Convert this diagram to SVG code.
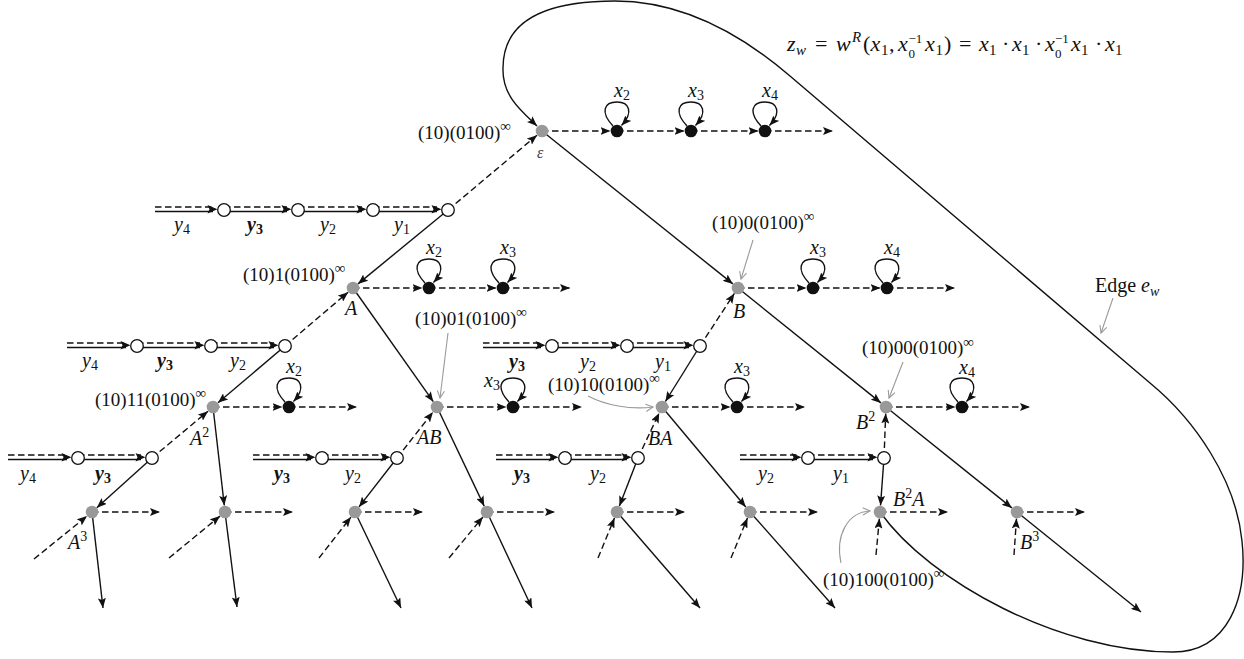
<svg xmlns="http://www.w3.org/2000/svg" xmlns:xlink="http://www.w3.org/1999/xlink" width="1244" height="659" viewBox="0 0 1244 659">
<style>
.t{font-family:"Liberation Serif","Times New Roman",serif;font-size:19px;fill:#111}
.m{font-size:20px}
.i{font-style:italic}
.s{font-size:14px;font-style:normal}
.si{font-size:14px;font-style:italic}
.inf{font-size:15px;font-style:normal}
.b{font-weight:bold}
.f{font-size:22px}
.fs{font-size:15px;font-style:normal}
.fss{font-size:13px;font-style:normal}
.fsi{font-size:15px;font-style:italic}
.sol{stroke:#111;stroke-width:1.4;fill:none}
.das{stroke:#111;stroke-width:1.4;fill:none;stroke-dasharray:6.5 3.5}
.arr{marker-end:url(#ar)}
.gr{stroke:#9a9a9a;stroke-width:1.1;fill:none;marker-end:url(#gar)}
.ng{fill:#999}
.nb{fill:#111}
.nw{fill:#fff;stroke:#111;stroke-width:1.3}
</style>
<defs>
<marker id="ar" viewBox="0 0 10 8" refX="10" refY="4" markerWidth="10" markerHeight="8" markerUnits="userSpaceOnUse" orient="auto"><path d="M0,0 L10,4 L0,8 L2,4 z" fill="#111"/></marker>
<marker id="gar" viewBox="0 0 10 10" refX="9" refY="5" markerWidth="9" markerHeight="9" markerUnits="userSpaceOnUse" orient="auto"><path d="M1,1 L9,5 L1,9" fill="none" stroke="#9a9a9a" stroke-width="1.2"/></marker>
<path id="ah" d="M0,0 L-10,-4.2 L-8,0 L-10,4.2 z" fill="#111"/>
<path id="loop" class="sol arr" d="M-4,-5 C-17,-19 -13,-29 0,-29 C12,-29 17,-19 4.5,-5.5"/>
</defs>
<rect width="1244" height="659" fill="#fff"/>

<g id="connectors">
<path class="sol arr" d="M880,512 C930,582 1060,652 1173,652 C1228,652 1248,598 1242,541 C1236,480 1195,420 1150,383 L790,76 C740,33 680,1 615,1 C545,1 503,20 503,68 C502,95 520,110 537,126"/>
<path class="sol arr" d="M542,131 L732.9,283.9"/>
<path class="sol arr" d="M448,210 L358,283.9"/>
<path class="sol arr" d="M353,288 L433.3,401.7"/>
<path class="sol arr" d="M285,346 L218,402.8"/>
<path class="sol arr" d="M152,458 L96.8,507.7"/>
<path class="sol arr" d="M213,407 L224.3,505.5"/>
<path class="sol arr" d="M397,458 L359,506.9"/>
<path class="sol arr" d="M437,407 L484.2,506.1"/>
<path class="sol arr" d="M738,288 L880.9,402.9"/>
<path class="sol arr" d="M700,346 L665.4,401.5"/>
<path class="sol arr" d="M638,458 L619.4,505.9"/>
<path class="sol arr" d="M662,407 L745.8,507"/>
<path class="sol arr" d="M884,458 L880.5,505.5"/>
<path class="sol arr" d="M886,407 L1011.9,507.9"/>
<path class="sol arr" d="M92,512 L103,608"/>
<path class="sol arr" d="M225,512 L237,607"/>
<path class="sol arr" d="M355,512 L401,608"/>
<path class="sol arr" d="M487,512 L532,608"/>
<path class="sol arr" d="M617,512 L700,608"/>
<path class="sol arr" d="M750,512 L835,608"/>
<path class="sol arr" d="M1017,512 L1141,612"/>
<path class="das arr" d="M448,210 L537,135.2"/>
<path class="das arr" d="M285,346 L348.1,292.2"/>
<path class="das arr" d="M152,458 L208,411.2"/>
<path class="das arr" d="M397,458 L433,412.1"/>
<path class="das arr" d="M700,346 L734.4,293.4"/>
<path class="das arr" d="M638,458 L659.2,412.9"/>
<path class="das arr" d="M884,458 L885.7,413.5"/>
<path class="das arr" d="M34,559 L87,516.1"/>
<path class="das arr" d="M169,558 L220,516.1"/>
<path class="das arr" d="M319,558 L351,517.1"/>
<path class="das arr" d="M449,558 L482.9,517"/>
<path class="das arr" d="M598,558 L614.5,518"/>
<path class="das arr" d="M731,558 L747.5,518"/>
<path class="das arr" d="M876,555 L879.4,518.5"/>
<path class="das arr" d="M1014,555 L1016.5,518.5"/>
<path class="das arr" d="M542,131 H610.5"/>
<path class="das arr" d="M617,131 H684.5"/>
<path class="das arr" d="M691,131 H758.5"/>
<path class="das arr" d="M765,131 H833"/>
<path class="das arr" d="M353,288 H422.5"/>
<path class="das arr" d="M429,288 H496.5"/>
<path class="das arr" d="M503,288 H570"/>
<path class="das arr" d="M738,288 H806.5"/>
<path class="das arr" d="M813,288 H880.5"/>
<path class="das arr" d="M887,288 H955"/>
<path class="das arr" d="M213,407 H282.5"/>
<path class="das arr" d="M289,407 H357"/>
<path class="das arr" d="M437,407 H506.5"/>
<path class="das arr" d="M513,407 H582"/>
<path class="das arr" d="M662,407 H730.5"/>
<path class="das arr" d="M737,407 H805"/>
<path class="das arr" d="M886,407 H955.5"/>
<path class="das arr" d="M962,407 H1030"/>
<path class="das arr" d="M92,512 H160"/>
<path class="das arr" d="M225,512 H293"/>
<path class="das arr" d="M355,512 H423"/>
<path class="das arr" d="M487,512 H555"/>
<path class="das arr" d="M617,512 H685"/>
<path class="das arr" d="M750,512 H818"/>
<path class="das arr" d="M880,512 H948"/>
<path class="das arr" d="M1017,512 H1085"/>
<use href="#loop" x="617" y="131"/>
<use href="#loop" x="691" y="131"/>
<use href="#loop" x="765" y="131"/>
<use href="#loop" x="429" y="288"/>
<use href="#loop" x="503" y="288"/>
<use href="#loop" x="813" y="288"/>
<use href="#loop" x="887" y="288"/>
<use href="#loop" x="289" y="407"/>
<use href="#loop" x="513" y="407"/>
<use href="#loop" x="737" y="407"/>
<use href="#loop" x="962" y="407"/>
<path class="das" d="M155,207 H213 M224,207 H287 M298,207 H362 M373,207 H437"/>
<path class="sol" d="M155,211.5 H213 M224,211.5 H287 M298,211.5 H362 M373,211.5 H437"/>
<use href="#ah" x="217.5" y="209.2"/><use href="#ah" x="291.5" y="209.2"/><use href="#ah" x="366.5" y="209.2"/><use href="#ah" x="441.5" y="209.2"/>
<path class="das" d="M67,343 H126 M137,343 H200 M211,343 H274"/>
<path class="sol" d="M67,347.5 H126 M137,347.5 H200 M211,347.5 H274"/>
<use href="#ah" x="130.5" y="345.2"/><use href="#ah" x="204.5" y="345.2"/><use href="#ah" x="278.5" y="345.2"/>
<path class="das" d="M483,343 H541 M552,343 H616 M627,343 H689"/>
<path class="sol" d="M483,347.5 H541 M552,347.5 H616 M627,347.5 H689"/>
<use href="#ah" x="545.5" y="345.2"/><use href="#ah" x="620.5" y="345.2"/><use href="#ah" x="693.5" y="345.2"/>
<path class="das" d="M8,455 H67 M78,455 H141"/>
<path class="sol" d="M8,459.5 H67 M78,459.5 H141"/>
<use href="#ah" x="71.5" y="457.2"/><use href="#ah" x="145.5" y="457.2"/>
<path class="das" d="M253,455 H311 M322,455 H386"/>
<path class="sol" d="M253,459.5 H311 M322,459.5 H386"/>
<use href="#ah" x="315.5" y="457.2"/><use href="#ah" x="390.5" y="457.2"/>
<path class="das" d="M496,455 H554 M565,455 H627"/>
<path class="sol" d="M496,459.5 H554 M565,459.5 H627"/>
<use href="#ah" x="558.5" y="457.2"/><use href="#ah" x="631.5" y="457.2"/>
<path class="das" d="M740,455 H797 M808,455 H873"/>
<path class="sol" d="M740,459.5 H797 M808,459.5 H873"/>
<use href="#ah" x="801.5" y="457.2"/><use href="#ah" x="877.5" y="457.2"/>
<path class="gr" d="M753,240 L741,279"/>
<path class="gr" d="M448,333 L440,398"/>
<path class="gr" d="M903,362 L889,398"/>
<path class="gr" d="M588,396 C605,405 630,410 653,407"/>
<path class="gr" d="M841,563 C835,535 848,512 870,511"/>
<path class="gr" d="M1113,298 L1101,333"/>
</g>

<g id="n-eps"><circle class="ng" cx="542" cy="131" r="6.3"/>
<text class="t" x="418" y="139">(10)(0100)<tspan class="inf" dy="-8">∞</tspan></text>
<text class="t i" x="537" y="158" style="font-size:16px;fill:#444">ε</text></g>
<g id="n-A"><circle class="ng" cx="353" cy="288" r="6.3"/>
<text class="t" x="243" y="281">(10)1(0100)<tspan class="inf" dy="-8">∞</tspan></text>
<text class="t m i" x="345" y="315">A</text></g>
<g id="n-B"><circle class="ng" cx="738" cy="288" r="6.3"/>
<text class="t" x="712" y="229">(10)0(0100)<tspan class="inf" dy="-8">∞</tspan></text>
<text class="t m i" x="733" y="318">B</text></g>
<g id="n-A2"><circle class="ng" cx="213" cy="407" r="6.3"/>
<text class="t" x="95" y="406">(10)11(0100)<tspan class="inf" dy="-8">∞</tspan></text>
<text class="t m i" x="190" y="445">A<tspan class="s" dy="-8">2</tspan></text></g>
<g id="n-AB"><circle class="ng" cx="437" cy="407" r="6.3"/>
<text class="t" x="415" y="325">(10)01(0100)<tspan class="inf" dy="-8">∞</tspan></text>
<text class="t m i" x="417" y="444">AB</text></g>
<g id="n-BA"><circle class="ng" cx="662" cy="407" r="6.3"/>
<text class="t" x="548" y="391">(10)10(0100)<tspan class="inf" dy="-8">∞</tspan></text>
<text class="t m i" x="648" y="445">BA</text></g>
<g id="n-B2"><circle class="ng" cx="886" cy="407" r="6.3"/>
<text class="t" x="862" y="354">(10)00(0100)<tspan class="inf" dy="-7">∞</tspan></text>
<text class="t m i" x="856" y="429">B<tspan class="s" dy="-8">2</tspan></text></g>
<g id="n-A3"><circle class="ng" cx="92" cy="512" r="6.3"/><text class="t m i" x="68" y="549">A<tspan class="s" dy="-8">3</tspan></text></g>
<g id="n-A2B"><circle class="ng" cx="225" cy="512" r="6.3"/></g>
<g id="n-ABA"><circle class="ng" cx="355" cy="512" r="6.3"/></g>
<g id="n-AB2"><circle class="ng" cx="487" cy="512" r="6.3"/></g>
<g id="n-BA2"><circle class="ng" cx="617" cy="512" r="6.3"/></g>
<g id="n-BAB"><circle class="ng" cx="750" cy="512" r="6.3"/></g>
<g id="n-B2A"><circle class="ng" cx="880" cy="512" r="6.3"/>
<text class="t m i" x="893" y="506">B<tspan class="s" dy="-8">2</tspan><tspan dy="8">A</tspan></text>
<text class="t" x="823" y="586">(10)100(0100)<tspan class="inf" dy="-8">∞</tspan></text></g>
<g id="n-B3"><circle class="ng" cx="1017" cy="512" r="6.3"/><text class="t m i" x="1020" y="549">B<tspan class="s" dy="-8">3</tspan></text></g>

<g id="n-black">
<circle class="nb" cx="617" cy="131" r="6.3"/><text class="t m i" x="614" y="97">x<tspan class="s" dy="3">2</tspan></text>
<circle class="nb" cx="691" cy="131" r="6.3"/><text class="t m i" x="688" y="97">x<tspan class="s" dy="3">3</tspan></text>
<circle class="nb" cx="765" cy="131" r="6.3"/><text class="t m i" x="762" y="97">x<tspan class="s" dy="3">4</tspan></text>
<circle class="nb" cx="429" cy="288" r="6.3"/><text class="t m i" x="426" y="254">x<tspan class="s" dy="3">2</tspan></text>
<circle class="nb" cx="503" cy="288" r="6.3"/><text class="t m i" x="500" y="254">x<tspan class="s" dy="3">3</tspan></text>
<circle class="nb" cx="813" cy="288" r="6.3"/><text class="t m i" x="810" y="254">x<tspan class="s" dy="3">3</tspan></text>
<circle class="nb" cx="887" cy="288" r="6.3"/><text class="t m i" x="884" y="254">x<tspan class="s" dy="3">4</tspan></text>
<circle class="nb" cx="289" cy="407" r="6.3"/><text class="t m i" x="286" y="373">x<tspan class="s" dy="3">2</tspan></text>
<circle class="nb" cx="513" cy="407" r="6.3"/><text class="t m i" x="484" y="387">x<tspan class="s" dy="3">3</tspan></text>
<circle class="nb" cx="737" cy="407" r="6.3"/><text class="t m i" x="734" y="373">x<tspan class="s" dy="3">3</tspan></text>
<circle class="nb" cx="962" cy="407" r="6.3"/><text class="t m i" x="959" y="374">x<tspan class="s" dy="3">4</tspan></text>
</g>

<g id="n-white">
<circle class="nw" cx="224" cy="210" r="6.3"/><circle class="nw" cx="298" cy="210" r="6.3"/><circle class="nw" cx="373" cy="210" r="6.3"/><circle class="nw" cx="448" cy="210" r="6.3"/>
<circle class="nw" cx="137" cy="346" r="6.3"/><circle class="nw" cx="211" cy="346" r="6.3"/><circle class="nw" cx="285" cy="346" r="6.3"/>
<circle class="nw" cx="552" cy="346" r="6.3"/><circle class="nw" cx="627" cy="346" r="6.3"/><circle class="nw" cx="700" cy="346" r="6.3"/>
<circle class="nw" cx="78" cy="458" r="6.3"/><circle class="nw" cx="152" cy="458" r="6.3"/>
<circle class="nw" cx="322" cy="458" r="6.3"/><circle class="nw" cx="397" cy="458" r="6.3"/>
<circle class="nw" cx="565" cy="458" r="6.3"/><circle class="nw" cx="638" cy="458" r="6.3"/>
<circle class="nw" cx="808" cy="458" r="6.3"/><circle class="nw" cx="884" cy="458" r="6.3"/>
</g>

<g id="y-labels">
<text class="t m i" x="174" y="231">y<tspan class="s" dy="3">4</tspan></text>
<text class="t m i b" x="247" y="231">y<tspan class="s b" dy="3">3</tspan></text>
<text class="t m i" x="320" y="231">y<tspan class="s" dy="3">2</tspan></text>
<text class="t m i" x="394" y="231">y<tspan class="s" dy="3">1</tspan></text>
<text class="t m i" x="82" y="367">y<tspan class="s" dy="3">4</tspan></text>
<text class="t m i b" x="157" y="367">y<tspan class="s b" dy="3">3</tspan></text>
<text class="t m i" x="230" y="367">y<tspan class="s" dy="3">2</tspan></text>
<text class="t m i b" x="509" y="368">y<tspan class="s b" dy="3">3</tspan></text>
<text class="t m i" x="580" y="368">y<tspan class="s" dy="3">2</tspan></text>
<text class="t m i" x="655" y="368">y<tspan class="s" dy="3">1</tspan></text>
<text class="t m i" x="20" y="480">y<tspan class="s" dy="3">4</tspan></text>
<text class="t m i b" x="95" y="480">y<tspan class="s b" dy="3">3</tspan></text>
<text class="t m i b" x="274" y="480">y<tspan class="s b" dy="3">3</tspan></text>
<text class="t m i" x="345" y="480">y<tspan class="s" dy="3">2</tspan></text>
<text class="t m i b" x="514" y="480">y<tspan class="s b" dy="3">3</tspan></text>
<text class="t m i" x="590" y="480">y<tspan class="s" dy="3">2</tspan></text>
<text class="t m i" x="758" y="480">y<tspan class="s" dy="3">2</tspan></text>
<text class="t m i" x="833" y="480">y<tspan class="s" dy="3">1</tspan></text>
</g>

<g id="labels">
<text class="t m" x="1095" y="292">Edge <tspan class="i">e</tspan><tspan class="si" dy="4">w</tspan></text>
<text class="t f" y="51"><tspan class="i" x="787">z</tspan><tspan class="fsi" x="796" dy="4">w</tspan><tspan x="815" dy="-4">=</tspan><tspan class="i" x="836">w</tspan><tspan class="fsi" x="852" dy="-9">R</tspan><tspan x="863" dy="9">(</tspan><tspan class="i" x="870.5">x</tspan><tspan class="fs" x="881" dy="4">1</tspan><tspan x="889" dy="-4">,</tspan><tspan class="i" x="898">x</tspan><tspan class="fss" x="908.5" dy="7">0</tspan><tspan class="fss" x="908.5" dy="-15">−1</tspan><tspan class="i" x="925" dy="8">x</tspan><tspan class="fs" x="935.5" dy="4">1</tspan><tspan x="944" dy="-4">)</tspan><tspan x="959">=</tspan><tspan class="i" x="979">x</tspan><tspan class="fs" x="989" dy="4">1</tspan><tspan x="1002" dy="-4">·</tspan><tspan class="i" x="1012">x</tspan><tspan class="fs" x="1022" dy="4">1</tspan><tspan x="1035" dy="-4">·</tspan><tspan class="i" x="1045">x</tspan><tspan class="fss" x="1055" dy="7">0</tspan><tspan class="fss" x="1055" dy="-15">−1</tspan><tspan class="i" x="1071" dy="8">x</tspan><tspan class="fs" x="1081" dy="4">1</tspan><tspan x="1095" dy="-4">·</tspan><tspan class="i" x="1105">x</tspan><tspan class="fs" x="1115" dy="4">1</tspan></text>
</g>
</svg>
